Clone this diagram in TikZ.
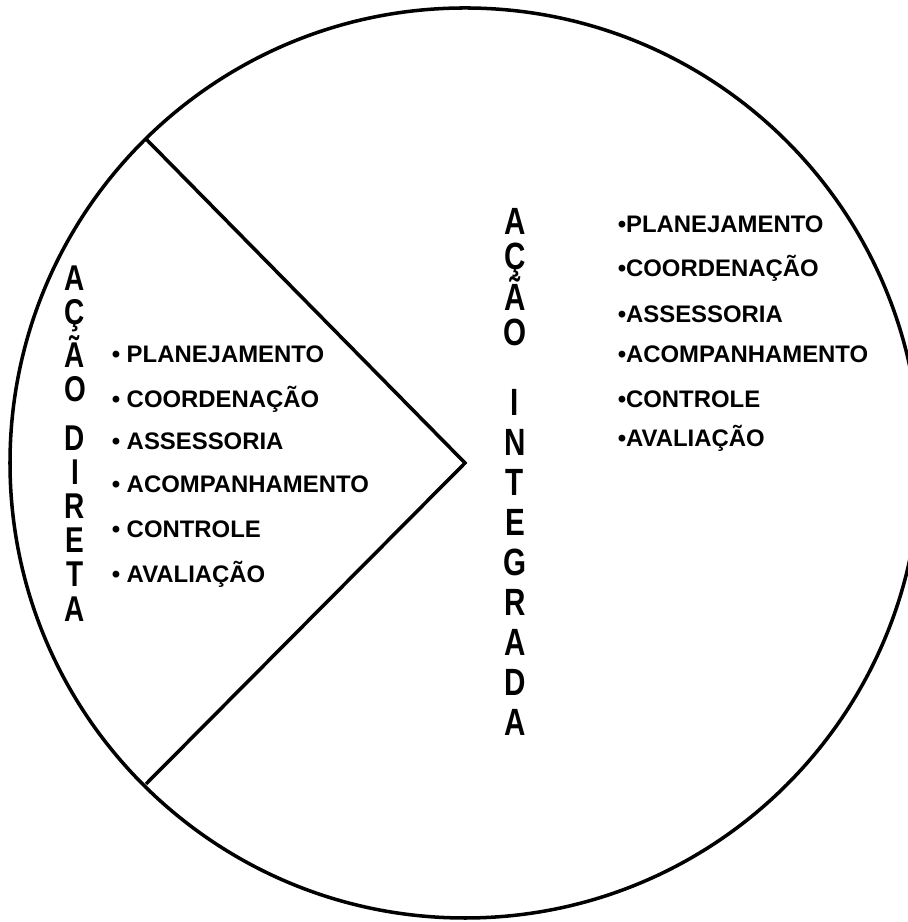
\documentclass[tikz,border=0pt]{standalone}
\usepackage{fontspec}
\setmainfont{Liberation Sans}
\newfontfamily\narrowsans[FakeStretch=0.78]{Liberation Sans}
\tikzset{
  item/.style={anchor=base west, inner sep=0pt, font=\bfseries\fontsize{6.8}{8}\selectfont},
  vtitle/.style={anchor=north, inner sep=0pt, align=center, font=\narrowsans\bfseries\fontsize{10.2}{9.7}\selectfont},
}
\begin{document}
\begin{tikzpicture}[line width=1pt]
    \useasboundingbox (0,0) rectangle (9.07,9.22);

    % Circulo e setor
    \coordinate (C) at (4.65,4.59);
    \coordinate (wtop) at (1.46,7.83);
    \coordinate (wbot) at (1.46,1.38);
    \draw (C) circle (4.55);
    \draw (wtop) -- (C) -- (wbot);

    % Titulos verticais
    \node[vtitle] (dtitle) at (0.75,6.58) {A\\Ç\\Ã\\O\\[0.15cm]D\\I\\R\\E\\T\\A};
    \node[vtitle, font=\narrowsans\bfseries\fontsize{10.8}{11.4}\selectfont] (ititle) at (5.15,7.15)
        {A\\[-0.05cm]Ç\\[-0.05cm]Ã\\[-0.05cm]O\\[0.30cm]I\\N\\T\\E\\G\\R\\A\\D\\A};

    % Acao direta
    \node[item] (dplan) at (1.10,5.59) {\textbullet\ PLANEJAMENTO};
    \node[item] (dcoord) at (1.10,5.14) {\textbullet\ COORDENAÇÃO};
    \node[item] (dasses) at (1.10,4.72) {\textbullet\ ASSESSORIA};
    \node[item] (dacomp) at (1.10,4.29) {\textbullet\ ACOMPANHAMENTO};
    \node[item] (dcontr) at (1.10,3.84) {\textbullet\ CONTROLE};
    \node[item] (daval) at (1.10,3.39) {\textbullet\ AVALIAÇÃO};

    % Acao integrada
    \node[item] (iplan) at (6.16,6.89) {\textbullet PLANEJAMENTO};
    \node[item] (icoord) at (6.16,6.45) {\textbullet COORDENAÇÃO};
    \node[item] (iasses) at (6.16,5.99) {\textbullet ASSESSORIA};
    \node[item] (iacomp) at (6.16,5.59) {\textbullet ACOMPANHAMENTO};
    \node[item] (icontr) at (6.16,5.14) {\textbullet CONTROLE};
    \node[item] (iaval) at (6.16,4.75) {\textbullet AVALIAÇÃO};
\end{tikzpicture}
\end{document}
